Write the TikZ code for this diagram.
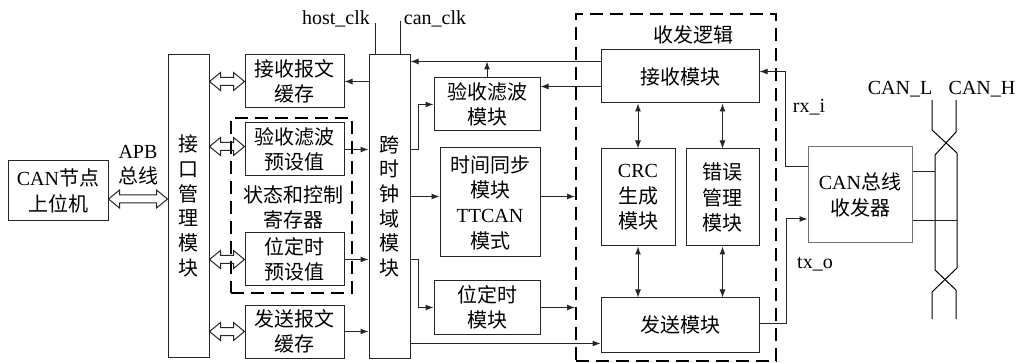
\documentclass[tikz,border=0pt]{standalone}
\usepackage{fontspec}
\setmainfont{Noto Sans CJK SC}
\newfontfamily\latinf{Liberation Serif}
\usetikzlibrary{arrows.meta,calc}
\newcommand{\hollowdbl}[2]{\draw[hol] (#1) -- ++(11,-9) -- ++(0,5) -- ($(#2)+(-11,-4)$) -- ++(0,-5) -- (#2) -- ++(-11,9) -- ++(0,-5) -- ($(#1)+(11,4)$) -- ++(0,5) -- cycle;}
\begin{document}
\begin{tikzpicture}[x=0.75pt,y=-0.75pt,
  font=\fontsize{15}{19}\selectfont,
  bx/.style 2 args={draw=black!85, line width=0.75pt, minimum width=#1*0.75pt, minimum height=#2*0.75pt, inner sep=0pt, align=center},
  dbox/.style 2 args={draw=black, line width=1.5pt, dash pattern=on 10pt off 5pt, minimum width=#1*0.75pt, minimum height=#2*0.75pt, inner sep=0pt},
  vtext/.style={font=\fontsize{15}{18.5}\selectfont},
  ln/.style={line width=0.75pt, draw=black!85},
  arr/.style={ln, -{Latex[length=6pt,width=4.5pt]}},
  darr/.style={ln, {Latex[length=6pt,width=4.5pt]}-{Latex[length=6pt,width=4.5pt]}},
  hol/.style={line width=0.75pt, draw=black!85, fill=white},
  lbl/.style={inner sep=0pt, align=center}
]
\useasboundingbox (0,0) rectangle (1017,363);

% boxes
\node[bx={100}{60}] (host) at (58,191) {{\latinf CAN}节点\\上位机};
\node[bx={41}{302}, vtext] (iface) at (188.5,206) {接\\口\\管\\理\\模\\块};
\node[bx={99}{53}] (rxbuf) at (294.5,81.5) {接收报文\\缓存};
\node[bx={99}{53}] (filtpre) at (294.5,149.5) {验收滤波\\预设值};
\node[bx={99}{53}] (bitpre) at (294.5,259.5) {位定时\\预设值};
\node[bx={99}{53}] (txbuf) at (294.5,331.5) {发送报文\\缓存};
\node[bx={41}{303}, vtext] (cdc) at (389.5,206.5) {跨\\时\\钟\\域\\模\\块};
\node[bx={106}{53}] (filt) at (487,104.5) {验收滤波\\模块};
\node[bx={100}{109}] (tsync) at (490,202.5) {时间同步\\模块\\{\latinf TTCAN}\\模式};
\node[bx={106}{53}] (bittim) at (487,307.5) {位定时\\模块};
\node[bx={158}{53}] (rx) at (680,76.5) {接收模块};
\node[bx={74}{97}] (crc) at (638,197.5) {{\latinf CRC}\\生成\\模块};
\node[bx={73}{97}] (err) at (722.5,197.5) {错误\\管理\\模块};
\node[bx={158}{54}] (tx) at (680,325) {发送模块};
\node[bx={104}{96}, draw=black!55] (xcvr) at (860,195) {{\latinf CAN}总线\\收发器};

% labels
\node[lbl] (apb) at (138,165) {{\latinf APB}\\总线};
\node[lbl] (reglbl) at (293,207.5) {状态和控制\\寄存器};
\node[lbl] (logiclbl) at (693,35) {收发逻辑};
\node[lbl, font=\latinf\fontsize{15}{19}\selectfont] (hclk) at (336,19) {host\_clk};
\node[lbl, font=\latinf\fontsize{15}{19}\selectfont] (cclk) at (435,19) {can\_clk};
\node[lbl, font=\latinf\fontsize{15}{19}\selectfont] (rxi) at (809,107) {rx\_i};
\node[lbl, font=\latinf\fontsize{15}{19}\selectfont] (txo) at (815,264) {tx\_o};
\node[lbl, font=\latinf\fontsize{15}{19}\selectfont] (canl) at (900,89) {CAN\_L};
\node[lbl, font=\latinf\fontsize{15}{19}\selectfont] (canh) at (982,89) {CAN\_H};

% hollow double arrows
\coordinate (a1) at ($(host.east)+(0,8)$);
\coordinate (a2) at (a1 -| iface.west);
\hollowdbl{a1}{a2}
\coordinate (b1) at (rxbuf.west -| iface.east);
\hollowdbl{b1}{rxbuf.west}
\coordinate (b2r) at ($(filtpre.west)+(0,-3)$);
\coordinate (b2) at (b2r -| iface.east);
\hollowdbl{b2}{b2r}
\coordinate (b3) at (bitpre.west -| iface.east);
\hollowdbl{b3}{bitpre.west}
\coordinate (b4) at (txbuf.west -| iface.east);
\hollowdbl{b4}{txbuf.west}

% dashed groups (drawn over the hollow arrows)
\node[dbox={121}{175}] (regs) at (291.5,205.5) {};
\node[dbox={200}{347}] (logic) at (676,187.5) {};

% clock lines
\coordinate (hc) at ($(cdc.north west)+(7,0)$);
\draw[ln] (hc) -- ++(0,-31);
\coordinate (cc) at ($(cdc.north east)+(-10,0)$);
\draw[ln] (cc) -- ++(0,-33);

% left side arrows
\draw[arr] (rxbuf.east -| cdc.west) -- (rxbuf.east);
\draw[arr] (filtpre.east) -- (filtpre.east -| cdc.west);
\draw[arr] (bitpre.east) -- (bitpre.east -| cdc.west);
\draw[arr] (txbuf.east) -- (txbuf.east -| cdc.west);

% receive paths
\coordinate (r62) at ($(rx.north west)+(0,12)$);
\draw[arr] (r62) -- (r62 -| cdc.east);
\draw[arr] (filt.north) -- (filt.north |- r62);
\coordinate (r87) at ($(rx.north west)+(0,37)$);
\draw[arr] (r87) -- (r87 -| filt.east);

% cdc outputs
\coordinate (c150) at ($(cdc.north east)+(0,95)$);
\draw[arr] (c150) -- ++(8,0) |- (filt.west);
\coordinate (c196) at ($(tsync.west)+(0,-6)$);
\draw[arr] (c196 -| cdc.east) -- (c196);
\coordinate (t196) at ($(tsync.east)+(0,-6)$);
\draw[arr] (t196) -- (t196 -| logic.west);
\coordinate (c260) at ($(cdc.north east)+(0,205)$);
\draw[arr] (c260) -- ++(8,0) |- (bittim.west);
\draw[arr] (bittim.east) -- (bittim.east -| logic.west);
\coordinate (t343) at ($(tx.south west)+(0,-9)$);
\draw[arr] (t343 -| cdc.east) -- (t343);

% inner logic arrows
\draw[darr] (crc.north) -- (crc.north |- rx.south);
\draw[darr] (err.north) -- (err.north |- rx.south);
\draw[darr] (crc.south) -- (crc.south |- tx.north);
\draw[darr] (err.south) -- (err.south |- tx.north);

% transceiver connections
\coordinate (xin) at ($(xcvr.west)+(0,24)$);
\draw[arr] ($(tx.east)+(0,-2)$) -- ++(27,0) |- (xin);
\coordinate (xout) at ($(xcvr.west)+(0,-28)$);
\coordinate (rin) at ($(rx.east)+(0,-5)$);
\draw[arr] (xout) -- ++(-22,0) |- (rin);

% twisted pair
\draw[ln, draw=black] (932,100) -- (932,130) -- (957,153) -- (957,268) -- (932,292) -- (932,319);
\draw[ln, draw=black] (956,100) -- (956,132) -- (935,155) -- (935,270) -- (956,290) -- (956,319);
\coordinate (wH) at (935,172);
\coordinate (wL) at (957,221);
\draw[ln] (xcvr.east |- wH) -- (wH);
\draw[ln] (xcvr.east |- wL) -- (wL);
\end{tikzpicture}
\end{document}
